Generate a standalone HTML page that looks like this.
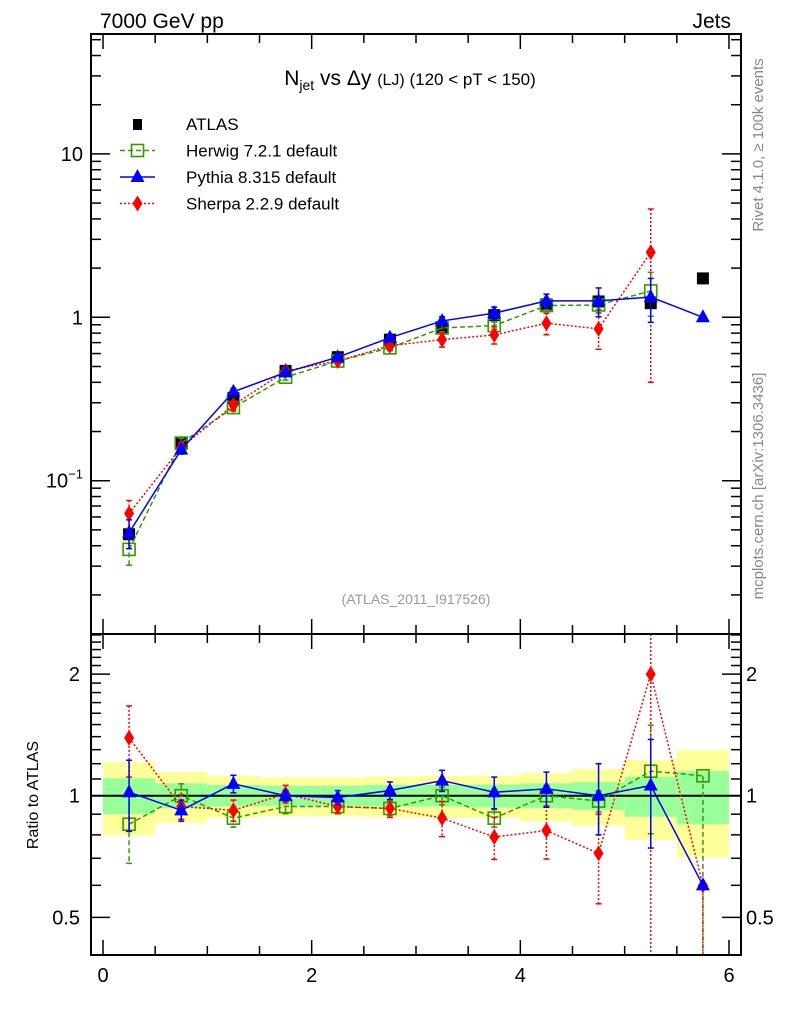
<!DOCTYPE html>
<html><head><meta charset="utf-8">
<style>
html,body{margin:0;padding:0;background:#fff;}
svg{display:block;font-family:"Liberation Sans",sans-serif;}
</style></head>
<body>
<svg id="chart" width="786" height="1024" viewBox="0 0 786 1024" xmlns="http://www.w3.org/2000/svg">
  <rect x="0" y="0" width="786" height="1024" fill="#fff"/>
  <text x="100" y="28" font-size="21">7000 GeV pp</text>
  <text x="731" y="28" font-size="21" text-anchor="end">Jets</text>
  <text x="410" y="85" font-size="21" text-anchor="middle">N<tspan font-size="14" dy="5">jet</tspan><tspan dy="-5"> vs Δy </tspan><tspan font-size="16">(LJ)</tspan><tspan font-size="17"> (120 &lt; pT &lt; 150)</tspan></text>
  <text x="416" y="604" font-size="14" fill="#999" text-anchor="middle">(ATLAS_2011_I917526)</text>
  <text transform="translate(763,145) rotate(-90)" font-size="15" fill="#888" text-anchor="middle">Rivet 4.1.0, ≥ 100k events</text>
  <text transform="translate(763,486) rotate(-90)" font-size="15" fill="#888" text-anchor="middle">mcplots.cern.ch [arXiv:1306.3436]</text>
  <text transform="translate(38,795) rotate(-90)" font-size="16" text-anchor="middle">Ratio to ATLAS</text>
  <g id="bands"></g>
  <g id="marks"></g>
  <g id="axes"></g>
  <g id="legend"></g>
</svg>
<script>
const xCenters = [0.25,0.75,1.25,1.75,2.25,2.75,3.25,3.75,4.25,4.75,5.25,5.75];
const atlasVals = [0.047,0.17,0.32,0.47,0.57,0.73,0.87,1.03,1.2,1.25,1.22,1.73];
const herwigVals = [0.038,0.17,0.28,0.43,0.54,0.65,0.86,0.89,1.18,1.19,1.45,null];
const pythiaVals = [0.048,0.155,0.35,0.46,0.57,0.75,0.95,1.06,1.26,1.26,1.33,1.0];
const sherpaVals = [0.063,0.16,0.29,0.47,0.54,0.67,0.73,0.78,0.92,0.85,2.5,null];
const herwigErr = [0.2,0.07,0.05,0.04,0.04,0.04,0.05,0.05,0.06,0.06,0.3,0.9];
const pythiaErr = [0.2,0.06,0.05,0.03,0.04,0.05,0.06,0.09,0.1,0.2,0.3,0];
const sherpaErr = [0.2,0.07,0.06,0.05,0.04,0.05,0.1,0.12,0.15,0.25,0.84,0.9];
const herwigErrUp = [0.2,0.07,0.05,0.04,0.04,0.04,0.05,0.05,0.06,0.06,0.3,0];
const pythiaErrUp = [0.2,0.06,0.05,0.03,0.04,0.05,0.06,0.09,0.1,0.2,0.3,0];
const sherpaErrUp = [0.2,0.07,0.06,0.05,0.04,0.05,0.1,0.12,0.15,0.25,0.84,0];
const herwigRatio = [0.85,1.0,0.88,0.94,0.94,0.93,1.0,0.88,1.0,0.97,1.15,1.12];
const pythiaRatio = [1.02,0.92,1.07,1.0,0.99,1.03,1.09,1.02,1.04,1.0,1.06,0.6];
const sherpaRatio = [1.39,0.94,0.92,1.01,0.94,0.93,0.88,0.79,0.82,0.72,2.0,0.6];
const yellowHi = [1.21,1.144,1.12,1.11,1.11,1.115,1.12,1.12,1.138,1.164,1.225,1.297];
const yellowLo = [0.797,0.856,0.882,0.89,0.89,0.885,0.882,0.882,0.863,0.843,0.777,0.704];
const greenHi = [1.104,1.073,1.063,1.058,1.058,1.063,1.063,1.066,1.073,1.08,1.114,1.15];
const greenLo = [0.90,0.931,0.94,0.943,0.943,0.94,0.94,0.935,0.931,0.922,0.887,0.85];
const xTickLabels = ["0","2","4","6"];

const NS="http://www.w3.org/2000/svg";
const L=91,R=741,T=34,M=634,B=955;
const X=v=>103+v*(729-103)/6;
const Y=v=>317.3-Math.log10(v)*163.4;
const YR=v=>795.7-Math.log10(v)*404;
const clipM=y=>Math.max(T,Math.min(M,y));
const clipR=y=>Math.max(M,Math.min(B,y));
function mk(tag,attrs,parent){const e=document.createElementNS(NS,tag);for(const k in attrs)e.setAttribute(k,attrs[k]);parent.appendChild(e);return e;}
const bands=document.getElementById('bands'),marks=document.getElementById('marks'),axes=document.getElementById('axes'),legend=document.getElementById('legend');

for(let i=0;i<xCenters.length;i++){
  const x0=X(xCenters[i]-0.25),x1=X(xCenters[i]+0.25);
  let r=mk('rect',{x:x0,y:YR(yellowHi[i]),width:x1-x0,height:YR(yellowLo[i])-YR(yellowHi[i]),fill:'#ffff99'},bands);
  
  
  r=mk('rect',{x:x0,y:YR(greenHi[i]),width:x1-x0,height:YR(greenLo[i])-YR(greenHi[i]),fill:'#99ff99'},bands);
  
  
}
let one=mk('line',{x1:L,x2:R,y1:YR(1),y2:YR(1),stroke:'#000','stroke-width':2},bands);



function marker(type,x,y,color,parent){
  let e;
  if(type==='sq') e=mk('rect',{x:x-6,y:y-6,width:12,height:12,fill:'none',stroke:color,'stroke-width':1.6},parent);
  else if(type==='tri') e=mk('polygon',{points:`${x},${y-8} ${x-7},${y+5} ${x+7},${y+5}`,fill:color},parent);
  else if(type==='dia') e=mk('polygon',{points:`${x},${y-8} ${x+5},${y} ${x},${y+8} ${x-5},${y}`,fill:color},parent);
  else e=mk('rect',{x:x-6,y:y-6,width:12,height:12,fill:color},parent);
  return e;
}
function series(name,vals,errs,errsUp,yf,clip,color,dash,type){
  const g=mk('g',{},marks);
  
  
  const pts=[];
  vals.forEach((v,i)=>{if(v!=null)pts.push([X(xCenters[i]),clip(yf(v)),i,v]);});
  const pl=mk('polyline',{points:pts.map(p=>p[0]+','+p[1]).join(' '),fill:'none',stroke:color,'stroke-width':1.5,'stroke-dasharray':dash},g);
  
  
  pts.forEach(p=>{
    const v=p[3],e=errs[p[2]],eu=errsUp[p[2]];
    if(e>0){
      const y1=clip(yf(v*(1+eu))),y2=clip(yf(Math.max(v*(1-e),1e-4)));
      const eb=mk('line',{x1:p[0],x2:p[0],y1:y1,y2:y2,stroke:color,'stroke-width':1.5,'stroke-dasharray':dash},g);
      
      
      if(eu>0) mk('line',{x1:p[0]-3,x2:p[0]+3,y1:y1,y2:y1,stroke:color,'stroke-width':1.5},g);
      mk('line',{x1:p[0]-3,x2:p[0]+3,y1:y2,y2:y2,stroke:color,'stroke-width':1.5},g);
    }
    const m=marker(type,p[0],p[1],color,g);
    
    
  });
}
atlasVals.forEach((v,i)=>{
  const m=marker('data',X(xCenters[i]),Y(v),'#000',marks);
  
  
});
series('herwig-main',herwigVals,herwigErr,herwigErr,Y,clipM,'#339900','5,3','sq');
series('sherpa-main',sherpaVals,sherpaErr,sherpaErr,Y,clipM,'#ff0000','2,2','dia');
series('pythia-main',pythiaVals,pythiaErr,pythiaErr,Y,clipM,'#0000ff','','tri');
series('herwig-ratio',herwigRatio,herwigErr,herwigErrUp,YR,clipR,'#339900','5,3','sq');
series('sherpa-ratio',sherpaRatio,sherpaErr,sherpaErrUp,YR,clipR,'#ff0000','2,2','dia');
series('pythia-ratio',pythiaRatio,pythiaErr,pythiaErrUp,YR,clipR,'#0000ff','','tri');

let f=mk('rect',{x:L,y:T,width:R-L,height:M-T,fill:'none',stroke:'#000','stroke-width':2},axes);


f=mk('rect',{x:L,y:M,width:R-L,height:B-M,fill:'none',stroke:'#000','stroke-width':2},axes);


for(let k=0;k<=12;k++){
  const v=k*0.5,x=X(v),len=(k%4===0)?15:9;
  [[T,1],[M,-1],[M,1],[B,-1]].forEach(([y0,d])=>mk('line',{x1:x,x2:x,y1:y0,y2:y0+d*len,stroke:'#000','stroke-width':1.5},axes));
}
xTickLabels.forEach(s=>{
  const t=mk('text',{x:X(+s),y:982,'font-size':20,'text-anchor':'middle'},axes);
  t.textContent=s;
  
  
});
for(let e=-2;e<=1;e++){for(let m=1;m<=9;m++){
  const v=m*Math.pow(10,e),y=Y(v);if(y<T||y>M)continue;
  const len=m===1?19:10;
  mk('line',{x1:L,x2:L+len,y1:y,y2:y,stroke:'#000','stroke-width':1.5},axes);
  mk('line',{x1:R,x2:R-len,y1:y,y2:y,stroke:'#000','stroke-width':1.5},axes);
}}
[[10,'10'],[1,'1']].forEach(([v,s])=>{
  const t=mk('text',{x:83,y:Y(v)+7,'font-size':20,'text-anchor':'end'},axes);
  t.textContent=s;
  
  
});
let t=mk('text',{x:83,y:Y(0.1)+7,'font-size':20,'text-anchor':'end'},axes);
t.innerHTML='10<tspan font-size="13" dy="-9">−1</tspan>';


for(let k=4;k<=25;k++){
  const v=k/10,y=YR(v);if(y<M||y>B)continue;
  const len=(k===5||k===10||k===20)?19:10;
  mk('line',{x1:L,x2:L+len,y1:y,y2:y,stroke:'#000','stroke-width':1.5},axes);
  mk('line',{x1:R,x2:R-len,y1:y,y2:y,stroke:'#000','stroke-width':1.5},axes);
}
[[2,'2'],[1,'1'],[0.5,'0.5']].forEach(([v,s])=>{
  let a=mk('text',{x:80,y:YR(v)+7,'font-size':20,'text-anchor':'end'},axes);
  a.textContent=s;
  
  
  a=mk('text',{x:746,y:YR(v)+7,'font-size':20,'text-anchor':'start'},axes);
  a.textContent=s;
  
  
});
const leg=[['ATLAS','#000','','data'],['Herwig 7.2.1 default','#339900','5,3','sq'],['Pythia 8.315 default','#0000ff','','tri'],['Sherpa 2.2.9 default','#ff0000','2,2','dia']];
leg.forEach((l,i)=>{
  const y=124+i*26.5;
  const g=mk('g',{},legend);
  
  
  if(i>0) mk('line',{x1:120,x2:155,y1:y,y2:y,stroke:l[1],'stroke-width':1.5,'stroke-dasharray':l[2]},g);
  if(i===0) mk('rect',{x:133,y:y-5,width:9,height:11,fill:'#000'},g); else marker(l[3],137.5,y,l[1],g);
  const tx=mk('text',{x:186,y:y+6,'font-size':17},g);
  tx.textContent=l[0];
});
</script>
</body></html>
